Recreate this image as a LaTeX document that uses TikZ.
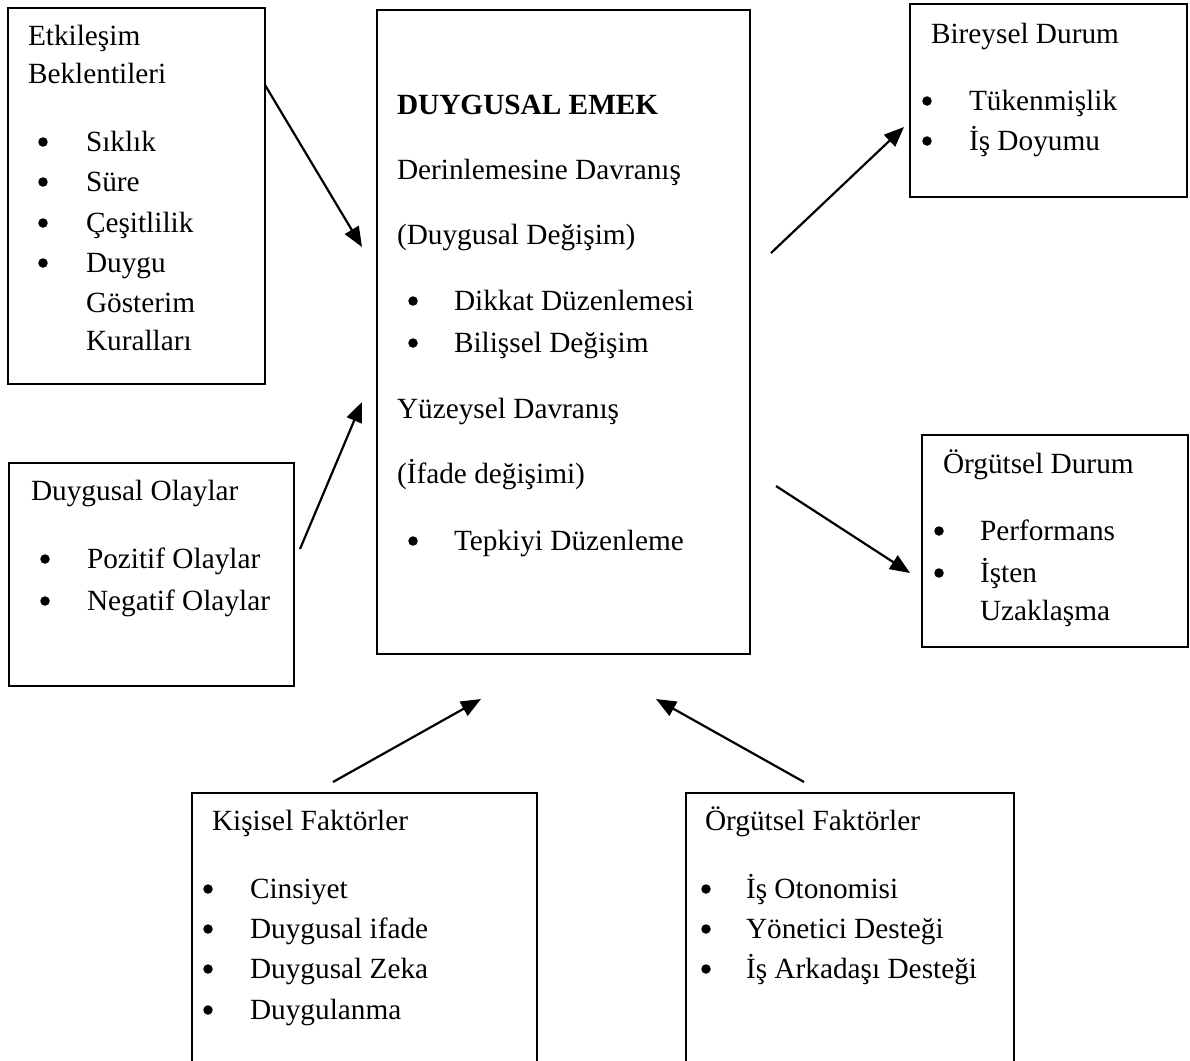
\documentclass[tikz,border=0pt]{standalone}
\usepackage{fontspec}
\setmainfont{Liberation Serif}
\usetikzlibrary{arrows.meta}
\tikzset{
  boxn/.style={draw=black, line width=1.4pt, inner sep=0pt, outer sep=0pt, anchor=north west},
  txt/.style={inner sep=0pt, outer sep=0pt, anchor=base west, font=\fontsize{29.3}{41}\selectfont},
  bul/.style={circle, fill=black, inner sep=0pt, outer sep=0pt, minimum size=9.5pt},
  conn/.style={line width=2.2pt, -{Triangle[length=20pt,width=16pt]}}
}
\begin{document}
\begin{tikzpicture}[x=1pt,y=-1pt]
\useasboundingbox (0,0) rectangle (1190,1060);
\clip (0,0) rectangle (1190,1060);
\fill[white] (0,0) rectangle (1190,1060);

% boxes
\node[boxn, minimum width=257pt, minimum height=376pt] (etk) at (8,8) {};
\node[boxn, minimum width=373pt, minimum height=644pt] (emek) at (377,10) {};
\node[boxn, minimum width=277pt, minimum height=193pt] (birey) at (910,4) {};
\node[boxn, minimum width=266pt, minimum height=212pt] (orgd) at (922,435) {};
\node[boxn, minimum width=285pt, minimum height=223pt] (olay) at (9,463) {};
\node[boxn, minimum width=345pt, minimum height=275pt] (kis) at (192,793) {};
\node[boxn, minimum width=328pt, minimum height=275pt] (orgf) at (686,793) {};

% Etkileşim Beklentileri
\node[txt] (etk1) at (28,45) {Etkileşim};
\node[txt] (etk2) at (28,83) {Beklentileri};
\node[bul] (eb1) at (43,142) {};
\node[txt] (ei1) at (86,151) {Sıklık};
\node[bul] (eb2) at (43,182) {};
\node[txt] (ei2) at (86,191) {Süre};
\node[bul] (eb3) at (43,223) {};
\node[txt] (ei3) at (86,232) {Çeşitlilik};
\node[bul] (eb4) at (43,263) {};
\node[txt] (ei4) at (86,272) {Duygu};
\node[txt] (ei5) at (86,312) {Gösterim};
\node[txt] (ei6) at (86,350) {Kuralları};

% Duygusal Emek
\node[txt, font=\fontsize{29.3}{41}\selectfont\bfseries] (em0) at (397,114) {DUYGUSAL EMEK};
\node[txt] (em1) at (397,179) {Derinlemesine Davranış};
\node[txt] (em2) at (397,244) {(Duygusal Değişim)};
\node[bul] (emb1) at (413,301) {};
\node[txt] (em3) at (454,310) {Dikkat Düzenlemesi};
\node[bul] (emb2) at (413,343) {};
\node[txt] (em4) at (454,352) {Bilişsel Değişim};
\node[txt] (em5) at (397,418) {Yüzeysel Davranış};
\node[txt] (em6) at (397,483) {(İfade değişimi)};
\node[bul] (emb3) at (413,541) {};
\node[txt] (em7) at (454,550) {Tepkiyi Düzenleme};

% Bireysel Durum
\node[txt] (bd0) at (931,43) {Bireysel Durum};
\node[bul] (bdb1) at (927,101) {};
\node[txt] (bd1) at (969,110) {Tükenmişlik};
\node[bul] (bdb2) at (927,141) {};
\node[txt] (bd2) at (969,150) {İş Doyumu};

% Örgütsel Durum
\node[txt] (od0) at (943,473) {Örgütsel Durum};
\node[bul] (odb1) at (939,531) {};
\node[txt] (od1) at (980,540) {Performans};
\node[bul] (odb2) at (939,573) {};
\node[txt] (od2) at (980,582) {İşten};
\node[txt] (od3) at (980,620) {Uzaklaşma};

% Duygusal Olaylar
\node[txt] (do0) at (31,500) {Duygusal Olaylar};
\node[bul] (dob1) at (45,559) {};
\node[txt] (do1) at (87,568) {Pozitif Olaylar};
\node[bul] (dob2) at (45,601) {};
\node[txt] (do2) at (87,610) {Negatif Olaylar};

% Kişisel Faktörler
\node[txt] (kf0) at (212,830) {Kişisel Faktörler};
\node[bul] (kfb1) at (208,889) {};
\node[txt] (kf1) at (250,898) {Cinsiyet};
\node[bul] (kfb2) at (208,929) {};
\node[txt] (kf2) at (250,938) {Duygusal ifade};
\node[bul] (kfb3) at (208,969) {};
\node[txt] (kf3) at (250,978) {Duygusal Zeka};
\node[bul] (kfb4) at (208,1010) {};
\node[txt] (kf4) at (250,1019) {Duygulanma};

% Örgütsel Faktörler
\node[txt] (of0) at (705,830) {Örgütsel Faktörler};
\node[bul] (ofb1) at (706,889) {};
\node[txt] (of1) at (746,898) {İş Otonomisi};
\node[bul] (ofb2) at (706,929) {};
\node[txt] (of2) at (746,938) {Yönetici Desteği};
\node[bul] (ofb3) at (706,969) {};
\node[txt] (of3) at (746,978) {İş Arkadaşı Desteği};

% connector end points
\coordinate (a1) at (265,85);  \coordinate (a2) at (362,247);
\coordinate (b1) at (300,549); \coordinate (b2) at (362,402);
\coordinate (c1) at (771,253); \coordinate (c2) at (904,127);
\coordinate (d1) at (776,486); \coordinate (d2) at (910,573);
\coordinate (e1) at (333,782); \coordinate (e2) at (481,699);
\coordinate (f1) at (804,782); \coordinate (f2) at (656,699);

\draw[conn] (a1) -- (a2);
\draw[conn] (b1) -- (b2);
\draw[conn] (c1) -- (c2);
\draw[conn] (d1) -- (d2);
\draw[conn] (e1) -- (e2);
\draw[conn] (f1) -- (f2);
\end{tikzpicture}
\end{document}
